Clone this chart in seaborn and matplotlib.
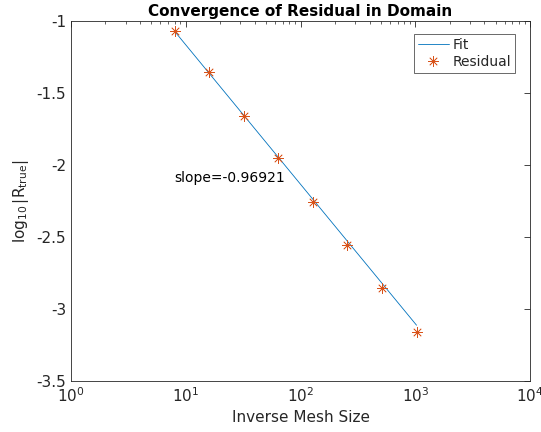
import numpy as np
import pandas as pd
import seaborn as sns
import matplotlib
matplotlib.use("Agg")
import matplotlib.pyplot as plt
from matplotlib.ticker import FuncFormatter, LogLocator, FixedLocator

# Data
inv_mesh = [8, 16, 32, 64, 128, 256, 512, 1024]
log_residual = [-1.07, -1.354, -1.66, -1.954, -2.255, -2.556, -2.854, -3.158]
fit_slope = -0.96921
fit_intercept = -0.1947
slope_label = "slope=-0.96921"
y_ticks = [-3.5, -3, -2.5, -2, -1.5, -1]

sns.set_style("white")
plt.rcParams['font.family'] = ['DejaVu Sans']

fit_vals = [fit_slope * np.log10(x) + fit_intercept for x in inv_mesh]
df = pd.DataFrame({"x": inv_mesh, "res": log_residual, "fit": fit_vals})

fig = plt.figure(figsize=(5.41, 4.32), dpi=100)
ax = fig.add_axes([0.131, 0.118, 0.849, 0.833])

blue = "#0072BD"
orange = "#D95319"
dark = "#262626"

sns.lineplot(data=df, x="x", y="fit", ax=ax, color=blue, linewidth=0.6, label="Fit")
sns.lineplot(data=df, x="x", y="res", ax=ax, color=orange, linestyle="none",
             marker=(8, 2, 0), markersize=7.5, markeredgewidth=0.5,
             markeredgecolor=orange, label="Residual")

ax.set_xscale("log")
ax.set_xlim(1, 1e4)
ax.set_ylim(-3.5, -1)
ax.yaxis.set_major_locator(FixedLocator(y_ticks))
ax.yaxis.set_major_formatter(FuncFormatter(lambda v, p: f"{v:g}"))
ax.xaxis.set_major_locator(LogLocator(base=10, numticks=10))
ax.xaxis.set_minor_locator(LogLocator(base=10, subs=np.arange(2, 10), numticks=50))

ax.tick_params(axis="both", which="both", direction="in", top=True, right=True,
               colors=dark, labelcolor=dark, labelsize=11)
ax.tick_params(axis="both", which="major", length=4, width=0.6)
ax.tick_params(axis="both", which="minor", length=2, width=0.5)
ax.tick_params(axis="y", which="minor", left=False, right=False)
for s in ax.spines.values():
    s.set_color(dark)
    s.set_linewidth(0.6)

ax.set_xlabel("Inverse Mesh Size", fontsize=11, color=dark)
ax.set_ylabel(r"$\log_{10}|\mathrm{R}_{\mathrm{true}}|$", fontsize=11, color=dark)
ax.set_title("Convergence of Residual in Domain", fontsize=11, fontweight="bold",
             color="black", pad=4)

ax.text(8, -2.09, slope_label, fontsize=10, va="center", ha="left", color="black")

leg = ax.legend(loc="upper right", fontsize=10, frameon=True, fancybox=False,
                edgecolor=dark, borderpad=0.3, handlelength=2.2, handletextpad=0.3,
                bbox_to_anchor=(0.968, 0.965), labelspacing=0.2, borderaxespad=0)
leg.get_frame().set_linewidth(0.6)

fig.savefig("out.png", dpi=100)
